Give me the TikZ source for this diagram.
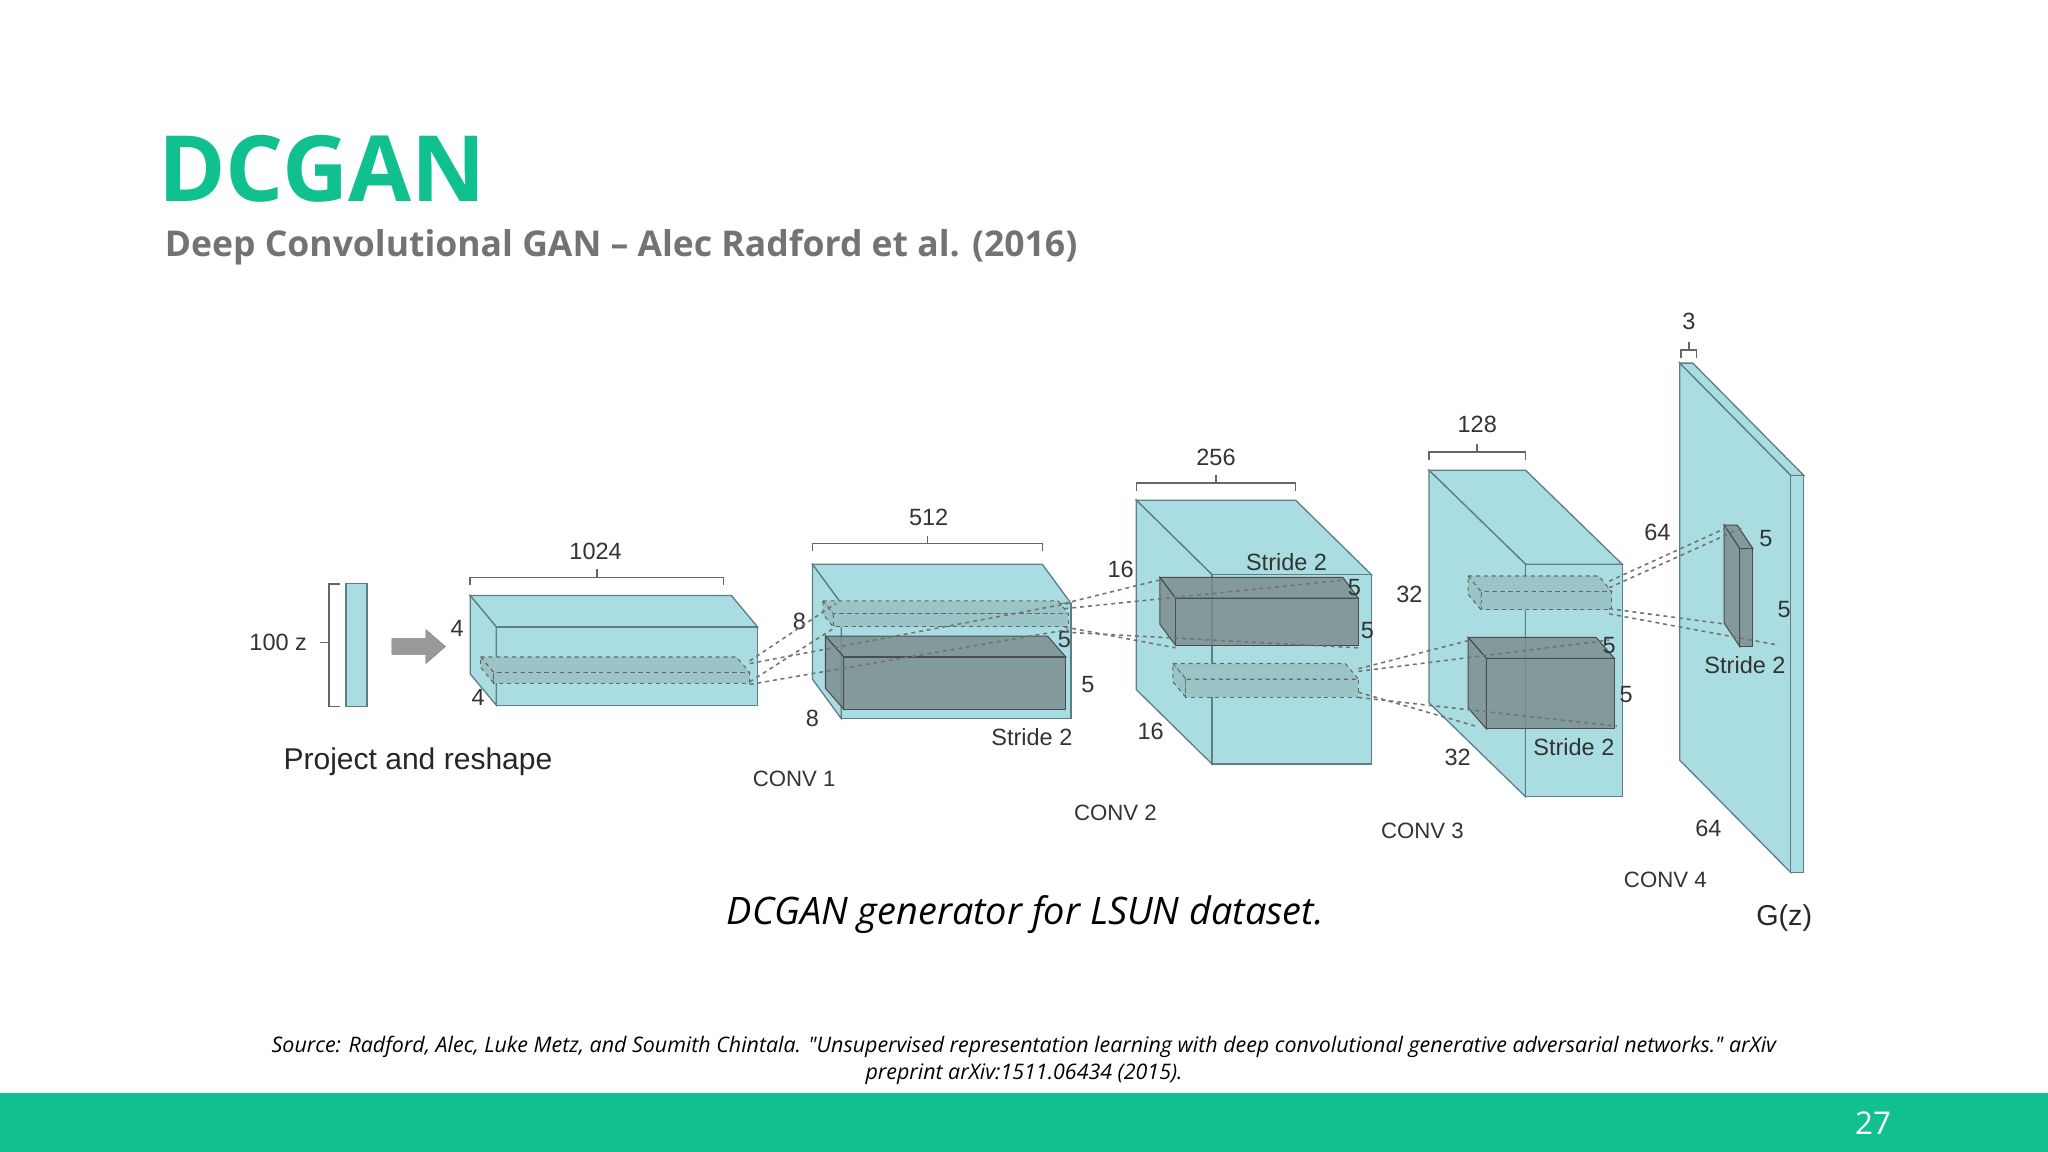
\documentclass[tikz,border=0pt]{standalone}
\usepackage{fontspec}
\setmainfont{Open Sans}
\newfontfamily\srcfont{Open Sans}[Ligatures=ResetAll]
\newfontfamily\arial{Liberation Sans}
\usetikzlibrary{arrows.meta}
\definecolor{gan}{HTML}{10C08F}
\definecolor{cyanf}{HTML}{A9DDE1}
\definecolor{edge}{HTML}{5C7E84}
\definecolor{kern}{HTML}{7A8A8C}
\tikzset{
 face/.style={fill=cyanf,draw=edge,line width=1pt},
 kface/.style={fill=kern,fill opacity=0.8,draw=black!70,line width=0.8pt},
 sface/.style={fill=cyanf!70!kern,draw=black!60,dashed,line width=0.8pt},
 dl/.style={draw=black!55,dashed,line width=1.2pt},
 lab/.style={font=\arial\fontsize{18}{20}\selectfont,text=black!80,inner sep=1pt},
 conv/.style={font=\arial\fontsize{17}{20}\selectfont,text=black!80},
 brk/.style={draw=black!60,line width=1.2pt}
}
% x y L H dx dy style
\newcommand\blk[7]{\begin{scope}[shift={(#1,#2)}]
 \path[#7] (0,0) -- ++(#3,0) -- ++(#5,#6) -- ++(-#3,0) -- cycle;
 \path[#7] (0,0) -- ++(#5,#6) -- ++(0,#4) -- ++(-#5,-#6) -- cycle;
 \path[#7] (#5,#6) rectangle ++(#3,#4);
\end{scope}}
\newcommand\mybrace[3]{\draw[brk] (#1,#3+6) -- (#1,#3) -- (#2,#3) -- (#2,#3+6);
 \draw[brk] ({(#1+#2)/2},#3) -- ++(0,-6);}
\begin{document}
\begin{tikzpicture}[x=1pt,y=-1pt]
\useasboundingbox (0,0) rectangle (1568,882);
\fill[gan] (0,837) rectangle (1568,882);
\node[text=white,font=\fontsize{24}{26}\selectfont] (pg) at (1434,860) {27};
\node[anchor=west,text=gan,font=\fontsize{70}{74}\selectfont\bfseries,inner sep=0] (t) at (121,129) {DCGAN};
\node[anchor=west,text=black!55,font=\fontsize{27.2}{30}\selectfont\bfseries,inner sep=0] (st) at (126,189) {Deep Convolutional GAN – Alec Radford et al. (2016)};
% input
\node[lab] (z) at (213,492) {100 z};
\draw[brk] (245,492)--(252,492); \draw[brk] (260,447)--(252,447)--(252,541)--(260,541);
\path[face] (265,447) rectangle (281,541);
\draw[fill=black!40,draw=black!50] (300,489)--(326,489)--(326,482)--(341,495)--(326,508)--(326,501)--(300,501)--cycle;
\node[font=\arial\fontsize{23}{26}\selectfont,text=black!85] (pr) at (320,583) {Project and reshape};
% block1
\blk{360}{456}{200}{60}{20}{24}{face}
\blk{368}{503}{196}{8}{10}{12}{sface}
\mybrace{360}{554}{442}
\node[lab] at (456,422) {1024};
\node[lab] at (350,481) {4};
\node[lab] at (366,534) {4};
% block2
\blk{622}{432}{176}{88}{22}{30}{face}
\blk{630}{460}{180}{10}{8}{10}{sface}
\blk{632}{487}{170}{40}{14}{16}{kface}
\mybrace{622}{798}{416}
\node[lab] at (711,396) {512};
\node[lab] at (612,476) {8};
\node[lab] at (622,550) {8};
\node[lab] at (815,490) {5};
\node[lab] at (833,524) {5};
\node[lab] at (790,564) {Stride 2};
\node[conv] at (608,596) {CONV 1};
\draw[dl] (574,506)--(640,462); \draw[dl] (574,508)--(818,462);
\draw[dl] (574,522)--(640,480); \draw[dl] (574,524)--(818,482);
% block3
\blk{870}{383}{122}{145}{58}{57}{face}
\blk{888}{442}{140}{36}{12}{16}{kface}
\blk{898}{508}{132}{14}{10}{12}{sface}
\mybrace{870}{992}{370}
\node[lab] at (931,350) {256};
\node[lab] at (858,436) {16};
\node[lab] at (985,430) {Stride 2};
\node[lab] at (1037,450) {5};
\node[lab] at (1047,483) {5};
\node[lab] at (881,560) {16};
\node[conv] at (854,622) {CONV 2};
\draw[dl] (815,462)--(888,444); \draw[dl] (815,466)--(1030,444);
\draw[dl] (815,480)--(900,496); \draw[dl] (815,484)--(1040,496);
% block4
\blk{1094}{360}{74}{178}{74}{72}{face}
\blk{1124}{441}{100}{14}{10}{12}{sface}
\blk{1124}{488}{98}{54}{14}{16}{kface}
\mybrace{1094}{1168}{346}
\node[lab] at (1131,325) {128};
\node[lab] at (1079,455) {32};
\node[lab] at (1232,494) {5};
\node[lab] at (1245,532) {5};
\node[lab] at (1116,580) {32};
\node[lab] at (1205,572) {Stride 2};
\node[conv] at (1089,636) {CONV 3};
\draw[dl] (1040,512)--(1126,490); \draw[dl] (1040,514)--(1232,490);
\draw[dl] (1040,530)--(1130,556); \draw[dl] (1040,534)--(1238,556);
% block5
\blk{1286}{278}{10}{304}{85}{86}{face}
\blk{1320}{402}{10}{75}{12}{18}{kface}
\draw[brk] (1287,274)--(1287,268)--(1299,268)--(1299,274); \draw[brk] (1293,268)--(1293,262);
\node[lab] at (1293,246) {3};
\node[lab] at (1269,408) {64};
\node[lab] at (1352,412) {5};
\node[lab] at (1366,467) {5};
\node[lab] at (1336,509) {Stride 2};
\node[lab] at (1308,634) {64};
\node[conv] at (1275,674) {CONV 4};
\node[font=\arial\fontsize{22}{24}\selectfont,text=black!85] at (1366,703) {G(z)};
\draw[dl] (1232,445)--(1322,404); \draw[dl] (1232,450)--(1334,404);
\draw[dl] (1232,466)--(1322,478); \draw[dl] (1232,470)--(1362,494);
% captions
\node[font=\fontsize{29}{32}\selectfont\itshape] (cap) at (785,700) {DCGAN generator for LSUN dataset.};
\node[font=\srcfont\fontsize{16.4}{21}\selectfont\itshape,align=center] (src) at (784,812) {Source: Radford, Alec, Luke Metz, and Soumith Chintala. "Unsupervised representation learning with deep convolutional generative adversarial networks." arXiv\\ preprint arXiv:1511.06434 (2015).};
\end{tikzpicture}
\end{document}
